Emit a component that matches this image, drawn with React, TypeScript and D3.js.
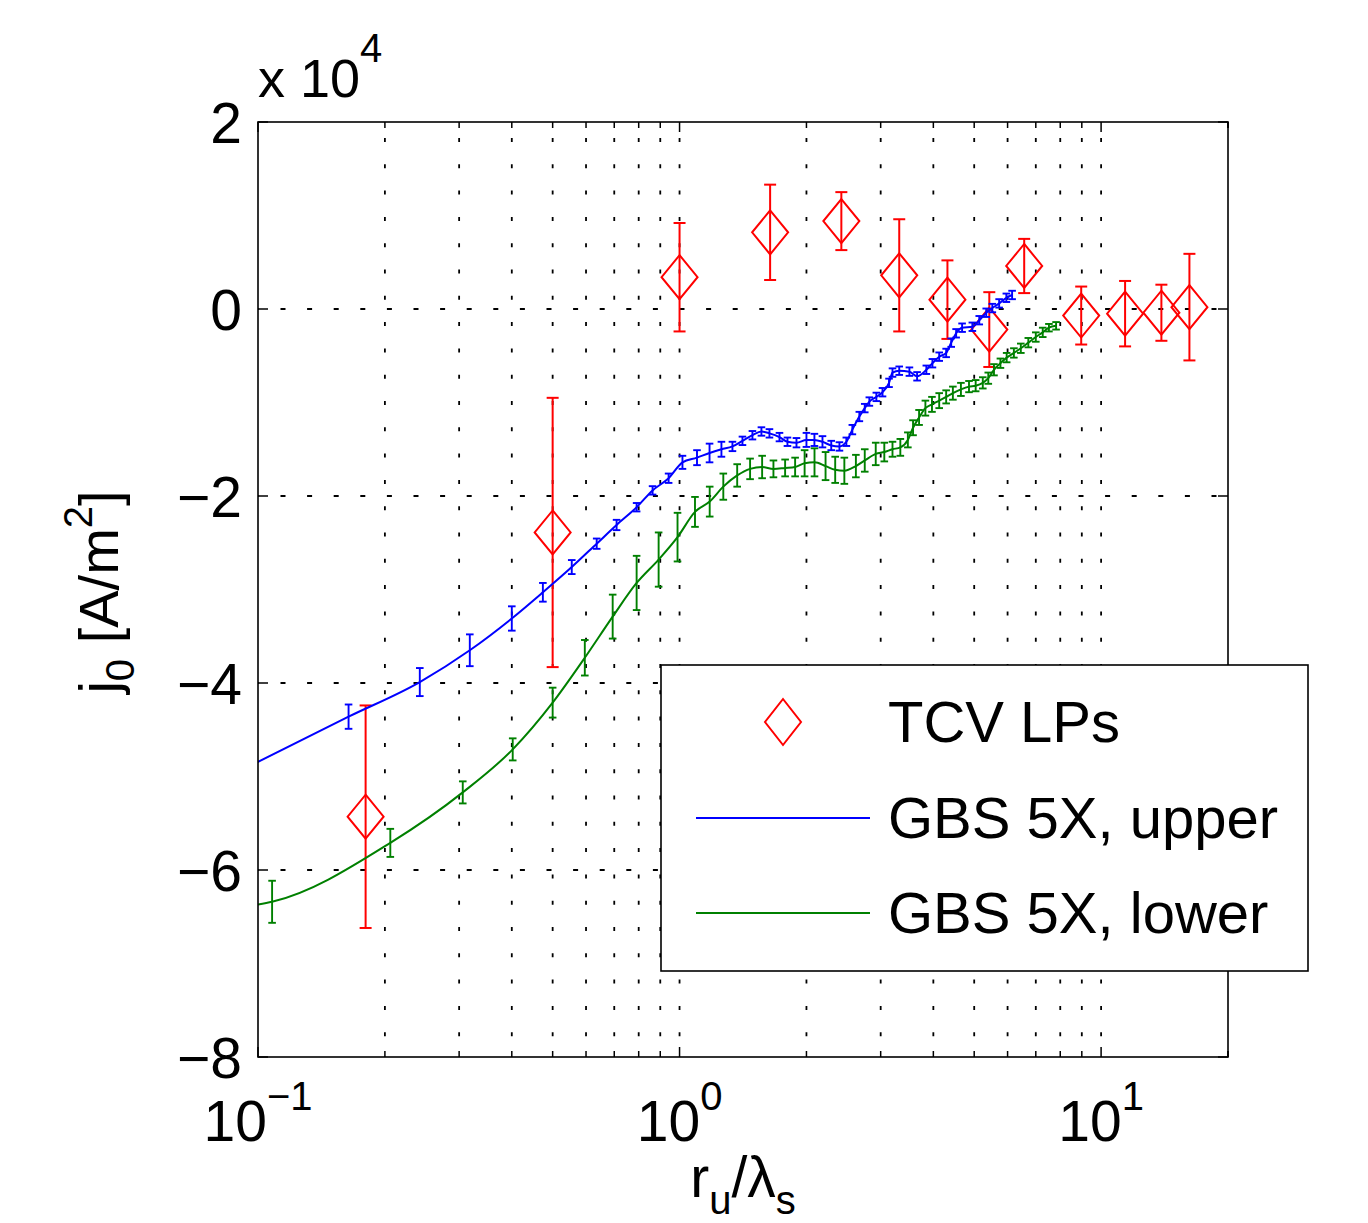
import React from 'react';
import * as d3 from 'd3';

// TCV LPs (red diamonds), y in units of 1e4 A/m^2
const redX = [0.18, 0.5, 1.0, 1.64, 2.42, 3.32, 4.32, 5.43, 6.57, 8.97, 11.4, 13.9, 16.2];
const redY = [-5.43, -2.39, 0.34, 0.82, 0.94, 0.36, 0.10, -0.22, 0.46, -0.07, -0.05, -0.04, 0.02];
const redErr = [1.19, 1.44, 0.58, 0.51, 0.31, 0.60, 0.42, 0.40, 0.29, 0.31, 0.35, 0.30, 0.57];

// GBS 5X, upper (blue)
const blueX = [0.086, 0.164, 0.242, 0.318, 0.400, 0.474, 0.555, 0.636, 0.709, 0.791, 0.863, 0.942,
  1.016, 1.10, 1.178, 1.257, 1.335, 1.41, 1.489, 1.564, 1.634, 1.726, 1.803, 1.894, 2.00, 2.089,
  2.183, 2.29, 2.395, 2.487, 2.57, 2.67, 2.75, 2.82, 2.93, 3.03, 3.14, 3.20, 3.32, 3.51, 3.66,
  3.85, 3.98, 4.13, 4.29, 4.41, 4.53, 4.68, 4.95, 5.14, 5.34, 5.52, 5.73, 5.96, 6.15];
const blueY = [-4.99, -4.36, -3.99, -3.65, -3.31, -3.03, -2.76, -2.51, -2.31, -2.12, -1.94, -1.81,
  -1.64, -1.59, -1.54, -1.50, -1.47, -1.41, -1.35, -1.31, -1.33, -1.37, -1.42, -1.43, -1.40, -1.40,
  -1.42, -1.46, -1.47, -1.42, -1.29, -1.15, -1.06, -0.99, -0.94, -0.89, -0.79, -0.68, -0.66, -0.67, -0.72,
  -0.65, -0.58, -0.51, -0.47, -0.36, -0.26, -0.20, -0.19, -0.12, -0.04, 0.01, 0.06, 0.12, 0.15];
const blueErr = [0.13, 0.13, 0.15, 0.17, 0.13, 0.10, 0.075, 0.055, 0.055, 0.045, 0.045, 0.05,
  0.07, 0.08, 0.10, 0.08, 0.05, 0.045, 0.045, 0.045, 0.045, 0.045, 0.045, 0.05, 0.075, 0.065,
  0.06, 0.05, 0.045, 0.045, 0.05, 0.05, 0.045, 0.045, 0.045, 0.045, 0.045, 0.045, 0.045, 0.045, 0.045,
  0.045, 0.045, 0.045, 0.045, 0.045, 0.045, 0.045, 0.045, 0.045, 0.045, 0.045, 0.045, 0.045, 0.045];

// GBS 5X, lower (green)
const greenX = [0.10, 0.108, 0.206, 0.306, 0.402, 0.50, 0.596, 0.694, 0.791, 0.892, 0.989, 1.088,
  1.179, 1.27, 1.37, 1.47, 1.57, 1.67, 1.78, 1.88, 1.98, 2.09, 2.22, 2.34, 2.46, 2.62, 2.75, 2.92,
  3.06, 3.20, 3.34, 3.48, 3.58, 3.70, 3.83, 3.97, 4.13, 4.29, 4.45, 4.65, 4.86, 5.04, 5.24, 5.40,
  5.57, 5.77, 5.97, 6.21, 6.45, 6.72, 7.00, 7.27, 7.52, 7.82];
const greenY = [-6.37, -6.34, -5.71, -5.17, -4.71, -4.21, -3.73, -3.29, -2.93, -2.68, -2.44, -2.17,
  -2.06, -1.90, -1.78, -1.71, -1.69, -1.71, -1.70, -1.69, -1.65, -1.64, -1.68, -1.72, -1.73, -1.68, -1.62, -1.55,
  -1.53, -1.50, -1.48, -1.40, -1.27, -1.16, -1.06, -1.02, -0.98, -0.94, -0.90, -0.86, -0.83, -0.82, -0.79, -0.74,
  -0.65, -0.58, -0.52, -0.47, -0.42, -0.36, -0.30, -0.25, -0.20, -0.18];
const greenErr = [0, 0.225, 0.15, 0.118, 0.118, 0.16, 0.19, 0.235, 0.29, 0.29, 0.26, 0.16,
  0.16, 0.14, 0.12, 0.11, 0.12, 0.09, 0.09, 0.10, 0.14, 0.15, 0.15, 0.14, 0.14, 0.12, 0.12, 0.12,
  0.10, 0.08, 0.09, 0.08, 0.08, 0.08, 0.08, 0.08, 0.08, 0.07, 0.07, 0.07, 0.06, 0.06, 0.06, 0.06,
  0.06, 0.05, 0.05, 0.05, 0.05, 0.05, 0.05, 0.05, 0.04, 0.04];

const yTicks = [-8, -6, -4, -2, 0, 2];
const yTickLabels = ['\u22128', '\u22126', '\u22124', '\u22122', '0', '2'];
const xMajor = [0.1, 1, 10];
const xMajorExp = ['\u22121', '0', '1'];
const legendLabels = ['TCV LPs', 'GBS 5X, upper', 'GBS 5X, lower'];

const RED = '#ff0000';
const BLUE = '#0000ff';
const GREEN = '#008000';
const FONT = '"Liberation Sans", Arial, Helvetica, sans-serif';

export default function App() {
  const W = 1368, H = 1223;
  const L = 258, R = 1228, T = 122, B = 1057;
  const x = d3.scaleLog().domain([0.1, 20]).range([L, R]);
  const y = d3.scaleLinear().domain([-8, 2]).range([B, T]);

  // log ticks
  const logTicks: { v: number; major: boolean }[] = [];
  for (let d = -1; d <= 1; d++) {
    for (let k = 1; k <= 9; k++) {
      const v = k * Math.pow(10, d);
      if (v <= 20.0001) logTicks.push({ v, major: k === 1 });
    }
  }
  logTicks.push({ v: 20, major: false });

  const line = d3.line<[number, number]>()
    .x(d => x(d[0]))
    .y(d => y(d[1]))
    .curve(d3.curveMonotoneX);

  const bluePts = blueX.map((v, i) => [v, blueY[i]] as [number, number]);
  const greenPts = greenX.map((v, i) => [v, greenY[i]] as [number, number]);

  const errBars = (xs: number[], ys: number[], es: number[], color: string, cap: number, sw: number, key: string) =>
    xs.map((v, i) => {
      if (!es[i]) return null;
      const px = x(v);
      const y1 = y(ys[i] + es[i]);
      const y2 = y(ys[i] - es[i]);
      return (
        <g key={key + i} stroke={color} strokeWidth={sw} fill="none">
          <line x1={px} x2={px} y1={y1} y2={y2} />
          <line x1={px - cap} x2={px + cap} y1={y1} y2={y1} />
          <line x1={px - cap} x2={px + cap} y1={y2} y2={y2} />
        </g>
      );
    });

  const diamond = (cx: number, cy: number, hw: number, hh: number) =>
    `M${cx},${cy - hh}L${cx + hw},${cy}L${cx},${cy + hh}L${cx - hw},${cy}Z`;

  return (
    <svg width={W} height={H} style={{ position: 'absolute', left: 0, top: 0, display: 'block', background: '#fff' }}
      fontFamily={FONT}>
      <defs>
        <clipPath id="plotclip">
          <rect x={L} y={T} width={R - L} height={B - T} />
        </clipPath>
      </defs>
      <rect x={0} y={0} width={W} height={H} fill="#fff" />
      <rect x={L} y={T} width={R - L} height={B - T} fill="#fff" />

      {/* grid */}
      <g stroke="#000" strokeWidth={1.8} fill="none">
        {logTicks.filter(t => t.v > 0.1 && t.v < 20).map((t, i) => (
          <line key={'gx' + i} x1={x(t.v)} x2={x(t.v)} y1={T} y2={B}
            strokeDasharray="4 22.3" strokeDashoffset={10.3} />
        ))}
        {yTicks.filter(t => t > -8 && t < 2).map((t, i) => (
          <line key={'gy' + i} x1={L} x2={R} y1={y(t)} y2={y(t)}
            strokeDasharray="5 21.6" strokeDashoffset={4.1} />
        ))}
      </g>

      {/* ticks */}
      <g stroke="#000" strokeWidth={1.5}>
        {logTicks.map((t, i) => {
          const len = t.major ? 10 : 6;
          const px = x(t.v);
          return (
            <g key={'tx' + i}>
              <line x1={px} x2={px} y1={B} y2={B - len} />
              <line x1={px} x2={px} y1={T} y2={T + len} />
            </g>
          );
        })}
        {yTicks.map((t, i) => (
          <g key={'ty' + i}>
            <line x1={L} x2={L + 10} y1={y(t)} y2={y(t)} />
            <line x1={R} x2={R - 10} y1={y(t)} y2={y(t)} />
          </g>
        ))}
      </g>

      {/* data */}
      <g clipPath="url(#plotclip)">
        {errBars(redX, redY, redErr, RED, 6, 2, 'r')}
        {redX.map((v, i) => (
          <path key={'rd' + i} d={diamond(x(v), y(redY[i]), 18, 22)} fill="none" stroke={RED} strokeWidth={2} />
        ))}
        <path d={line(bluePts) || ''} fill="none" stroke={BLUE} strokeWidth={2} />
        {errBars(blueX, blueY, blueErr, BLUE, 3.8, 1.9, 'b')}
        <path d={line(greenPts) || ''} fill="none" stroke={GREEN} strokeWidth={2} />
        {errBars(greenX, greenY, greenErr, GREEN, 3.8, 1.9, 'g')}
      </g>

      {/* axes box */}
      <rect x={L} y={T} width={R - L} height={B - T} fill="none" stroke="#000" strokeWidth={1.6} />

      {/* y tick labels */}
      <g fontSize={57} textAnchor="end" fill="#000">
        {yTicks.map((t, i) => (
          <text key={'yl' + i} x={242} y={y(t)} dy="0.36em">{yTickLabels[i]}</text>
        ))}
      </g>
      {/* exponent */}
      <text x={258} y={97} fontSize={54} fill="#000">
        x 10<tspan fontSize={40} dy={-35}>4</tspan>
      </text>

      {/* x tick labels */}
      <g fill="#000" textAnchor="middle">
        {xMajor.map((v, i) => (
          <text key={'xl' + i} x={x(v)} y={1141} fontSize={57}>
            10<tspan fontSize={40} dy={-31}>{xMajorExp[i]}</tspan>
          </text>
        ))}
      </g>

      {/* x label */}
      <text x={743} y={1197} fontSize={57} textAnchor="middle" fill="#000">
        r<tspan fontSize={40} dy={17}>u</tspan><tspan dy={-17}>/λ</tspan><tspan fontSize={40} dy={17}>s</tspan>
      </text>

      {/* y label */}
      <text transform="translate(118,592) rotate(-90)" fontSize={56} textAnchor="middle" fill="#000">
        j<tspan fontSize={40} dy={16}>0</tspan><tspan dy={-16}> [A/m</tspan><tspan fontSize={40} dy={-26}>2</tspan><tspan dy={26}>]</tspan>
      </text>

      {/* legend */}
      <g>
        <rect x={661} y={665} width={647} height={306} fill="#fff" stroke="#000" strokeWidth={1.6} />
        <path d={diamond(783, 722, 18, 23)} fill="none" stroke={RED} strokeWidth={2} />
        <line x1={696} x2={870} y1={818} y2={818} stroke={BLUE} strokeWidth={2} />
        <line x1={696} x2={870} y1={913} y2={913} stroke={GREEN} strokeWidth={2} />
        <g fontSize={58} fill="#000">
          <text x={888} y={742}>{legendLabels[0]}</text>
          <text x={888} y={838}>{legendLabels[1]}</text>
          <text x={888} y={933}>{legendLabels[2]}</text>
        </g>
      </g>
    </svg>
  );
}
